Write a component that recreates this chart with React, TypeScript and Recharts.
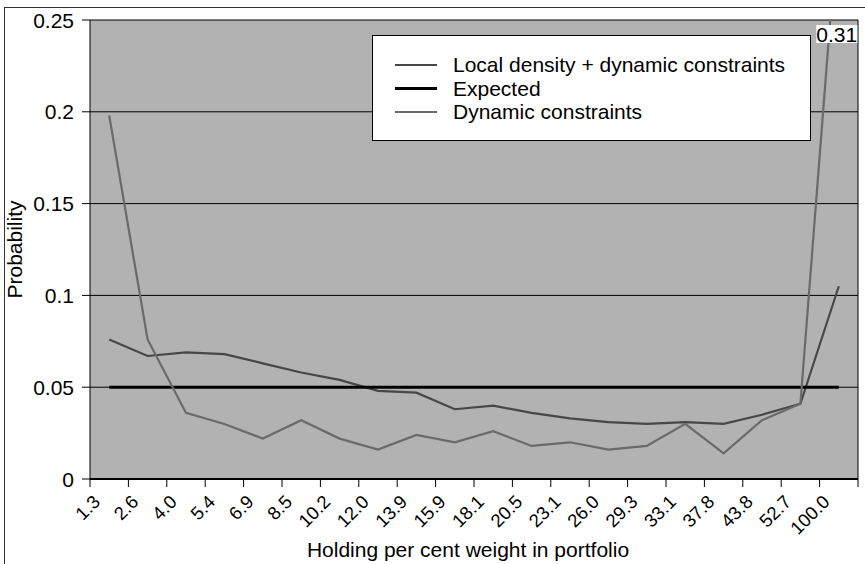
import React from 'react';
import { LineChart, Line, XAxis, YAxis, CartesianGrid, Legend, Label } from 'recharts';

const categories = ['1.3', '2.6', '4.0', '5.4', '6.9', '8.5', '10.2', '12.0', '13.9', '15.9', '18.1', '20.5', '23.1', '26.0', '29.3', '33.1', '37.8', '43.8', '52.7', '100.0'];
const localDensity = [0.076, 0.067, 0.069, 0.068, 0.063, 0.058, 0.054, 0.048, 0.047, 0.038, 0.040, 0.036, 0.033, 0.031, 0.030, 0.031, 0.030, 0.035, 0.041, 0.105];
const expected = [0.05, 0.05, 0.05, 0.05, 0.05, 0.05, 0.05, 0.05, 0.05, 0.05, 0.05, 0.05, 0.05, 0.05, 0.05, 0.05, 0.05, 0.05, 0.05, 0.05];
const dynamicConstraints = [0.198, 0.076, 0.036, 0.030, 0.022, 0.032, 0.022, 0.016, 0.024, 0.020, 0.026, 0.018, 0.020, 0.016, 0.018, 0.030, 0.014, 0.032, 0.041, 0.31];
const yTicks = [0, 0.05, 0.1, 0.15, 0.2, 0.25];
const seriesNames = ['Local density + dynamic constraints', 'Expected', 'Dynamic constraints'];
const xTitle = 'Holding per cent weight in portfolio';
const yTitle = 'Probability';

const data = categories.map((c, i) => ({
  cat: c,
  local: localDensity[i],
  expected: expected[i],
  dynamic: dynamicConstraints[i],
}));

const FONT = '"Liberation Sans", Arial, Helvetica, sans-serif';
const W = 865;
const H = 564;
const MARGIN = { top: 20, right: 7, bottom: 25, left: 0 };
const Y_AXIS_W = 90;
const X_AXIS_H = 60;
const PLOT_LEFT = MARGIN.left + Y_AXIS_W;
const PLOT_RIGHT = W - MARGIN.right;
const PLOT_TOP = MARGIN.top;
const PLOT_BOTTOM = H - MARGIN.bottom - X_AXIS_H;
const STEP = (PLOT_RIGHT - PLOT_LEFT) / categories.length;

const XTick = (props: any) => {
  const { x, payload, index } = props;
  const left = x - STEP / 2;
  const isLast = index === categories.length - 1;
  return (
    <g>
      <line x1={left} x2={left} y1={PLOT_BOTTOM} y2={PLOT_BOTTOM + 8} stroke="#000" strokeWidth={1} />
      {isLast && (
        <line x1={x + STEP / 2} x2={x + STEP / 2} y1={PLOT_BOTTOM} y2={PLOT_BOTTOM + 8} stroke="#000" strokeWidth={1} />
      )}
      <text
        transform={`translate(${x - 8},${PLOT_BOTTOM + 24}) rotate(-45)`}
        textAnchor="end"
        fontSize={18.5}
        fontFamily={FONT}
        fill="#000"
      >
        {payload.value}
      </text>
    </g>
  );
};

const YTick = (props: any) => {
  const { x, y, payload } = props;
  return (
    <text x={x} y={y + 7.5} textAnchor="end" fontSize={21} fontFamily={FONT} fill="#000">
      {String(payload.value)}
    </text>
  );
};

const OverflowLabel = (props: any) => {
  const { x, index, value } = props;
  if (index !== categories.length - 1) return null;
  return (
    <g>
      <rect x={x - 22.5} y={PLOT_TOP + 5} width={41} height={18} fill="#fff" />
      <text x={x - 2} y={PLOT_TOP + 21.5} textAnchor="middle" fontSize={21} fontFamily={FONT} fill="#000">
        {String(value)}
      </text>
    </g>
  );
};

const LegendBox = (props: any) => {
  const raw = props.payload || [];
  const payload = [...raw].sort(
    (a: any, b: any) => seriesNames.indexOf(a.value) - seriesNames.indexOf(b.value)
  );
  return (
    <div
      style={{
        width: 439,
        height: 106,
        boxSizing: 'border-box',
        border: '1px solid #000',
        background: '#fff',
        position: 'relative',
        fontFamily: FONT,
        fontSize: 21,
        color: '#000',
      }}
    >
      {payload.map((p: any, i: number) => {
        const cy = 29 + i * 23.5;
        return (
          <React.Fragment key={i}>
            <div
              style={{
                position: 'absolute',
                left: 22,
                top: cy - 1.25,
                width: 42,
                height: 2.5,
                background: p.color,
              }}
            />
            <span
              style={{
                position: 'absolute',
                left: 80,
                top: cy - 12,
                lineHeight: '24px',
                whiteSpace: 'nowrap',
              }}
            >
              {p.value}
            </span>
          </React.Fragment>
        );
      })}
    </div>
  );
};

const XTitle = (props: any) => {
  const vb = props.viewBox || {};
  const cx = vb.width ? vb.x + vb.width / 2 : (PLOT_LEFT + PLOT_RIGHT) / 2;
  return (
    <text x={cx - 6} y={PLOT_BOTTOM + 78} textAnchor="middle" fontSize={21} fontFamily={FONT} fill="#000">
      {xTitle}
    </text>
  );
};

const YTitle = () => (
  <text
    transform={`translate(22,${(PLOT_TOP + PLOT_BOTTOM) / 2}) rotate(-90)`}
    textAnchor="middle"
    fontSize={21}
    fontFamily={FONT}
    fill="#000"
  >
    {yTitle}
  </text>
);

export default function App() {
  return (
    <div
      style={{
        position: 'absolute',
        left: 0,
        top: 0,
        width: W,
        height: H,
        overflow: 'hidden',
        background: '#fff',
        fontFamily: FONT,
      }}
    >
      <div style={{ position: 'absolute', left: 0, top: 0 }}>
        <LineChart width={W} height={H} data={data} margin={MARGIN}>
          <CartesianGrid
            stroke="#000"
            strokeWidth={1}
            fill="#b2b2b2"
            fillOpacity={1}
            horizontal={true}
            vertical={true}
            verticalCoordinatesGenerator={(p: any) => [
              p && p.offset ? p.offset.left + p.offset.width : PLOT_RIGHT,
            ]}
          />
          <XAxis
            dataKey="cat"
            interval={0}
            padding={{ left: STEP / 2, right: STEP / 2 }}
            height={X_AXIS_H}
            axisLine={{ stroke: '#000', strokeWidth: 2 }}
            tickLine={false}
            tickSize={8}
            tickMargin={0}
            tick={(p: any) => <XTick {...p} />}
          >
            <Label content={(p: any) => <XTitle {...p} />} />
          </XAxis>
          <YAxis
            domain={[0, 0.25]}
            allowDataOverflow={true}
            ticks={yTicks}
            interval={0}
            width={Y_AXIS_W}
            axisLine={{ stroke: '#000', strokeWidth: 1 }}
            tickLine={{ stroke: '#000', strokeWidth: 1 }}
            tickSize={8}
            tickMargin={8}
            tick={(p: any) => <YTick {...p} />}
          >
            <Label content={() => <YTitle />} />
          </YAxis>
          <Legend
            layout="horizontal"
            verticalAlign="middle"
            align="center"
            wrapperStyle={{ left: 372, top: 35, width: 439, height: 106 }}
            content={(p: any) => <LegendBox {...p} />}
          />
          <Line
            type="linear"
            dataKey="local"
            name={seriesNames[0]}
            stroke="#474747"
            strokeWidth={2.2}
            dot={false}
            activeDot={false}
            isAnimationActive={false}
          />
          <Line
            type="linear"
            dataKey="expected"
            name={seriesNames[1]}
            stroke="#000"
            strokeWidth={3}
            dot={false}
            activeDot={false}
            isAnimationActive={false}
          />
          <Line
            type="linear"
            dataKey="dynamic"
            name={seriesNames[2]}
            stroke="#6a6a6a"
            strokeWidth={2.2}
            dot={false}
            activeDot={false}
            isAnimationActive={false}
            label={(p: any) => <OverflowLabel {...p} />}
          />
        </LineChart>
      </div>
      <div
        style={{
          position: 'absolute',
          left: 4,
          top: 7,
          width: 920,
          height: 620,
          borderTop: '1px solid #333',
          borderLeft: '1px solid #333',
          pointerEvents: 'none',
          zIndex: 5,
        }}
      />
    </div>
  );
}
